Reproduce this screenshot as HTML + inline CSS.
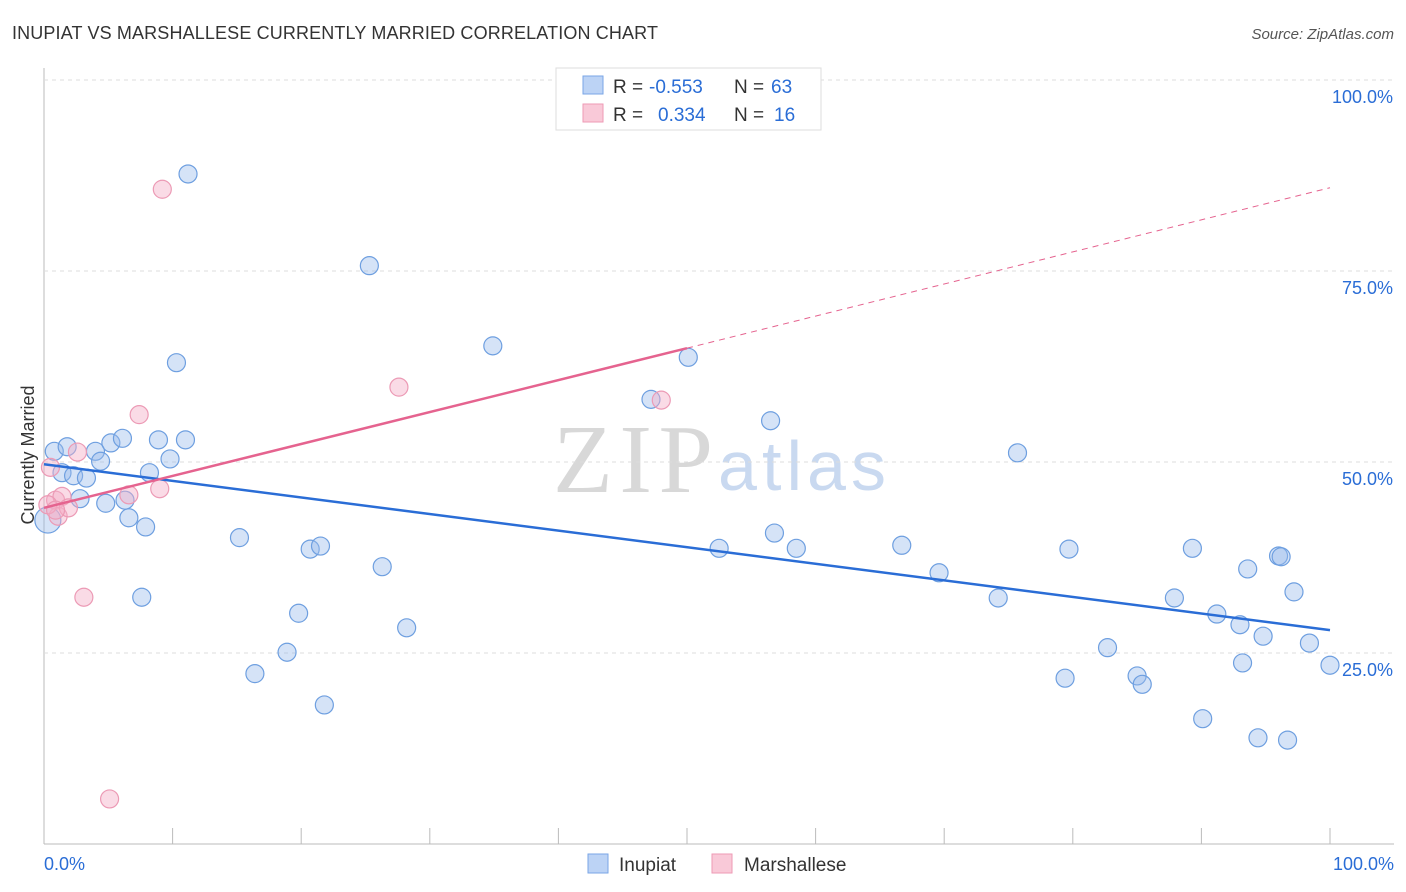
<!DOCTYPE html>
<html><head><meta charset="utf-8"><style>
body{margin:0;background:#fff;font-family:"Liberation Sans",sans-serif}
</style></head><body>
<svg id="c" width="1406" height="892" style="display:block">
<text x="12" y="39" font-size="18" fill="#333" textLength="646">INUPIAT VS MARSHALLESE CURRENTLY MARRIED CORRELATION CHART</text>
<text x="1394" y="39" font-size="15" fill="#555" font-style="italic" text-anchor="end">Source: ZipAtlas.com</text>
<text x="34" y="455" font-size="18" fill="#333" text-anchor="middle" transform="rotate(-90 34 455)">Currently Married</text>
<text x="553" y="492" font-size="98" fill="#d8d8d8" font-family="Liberation Serif" textLength="160">ZIP</text>
<text x="718" y="490" font-size="70" fill="#c9d9f0" textLength="168">atlas</text>
<g id="grid"></g><g id="marks"></g>
<g font-size="19">
<rect x="556" y="68" width="265" height="62" fill="#fff" stroke="#ddd"/>
<rect x="583" y="76" width="20" height="18" fill="#bcd3f5" stroke="#7aa6e6"/>
<rect x="583" y="104" width="20" height="18" fill="#f9c9d8" stroke="#ee9ab5"/>
<text x="613" y="93" fill="#333">R =</text><text x="649" y="93" fill="#2a6dd6">-0.553</text>
<text x="734" y="93" fill="#333">N =</text><text x="771" y="93" fill="#2a6dd6">63</text>
<text x="613" y="121" fill="#333">R =</text><text x="658" y="121" fill="#2a6dd6">0.334</text>
<text x="734" y="121" fill="#333">N =</text><text x="774" y="121" fill="#2a6dd6">16</text>
</g>
<g>
<rect x="588" y="854" width="20" height="19" fill="#bcd3f5" stroke="#7aa6e6"/>
<text x="619" y="871" font-size="19" fill="#333">Inupiat</text>
<rect x="712" y="854" width="20" height="19" fill="#f9c9d8" stroke="#ee9ab5"/>
<text x="744" y="871" font-size="19" fill="#333">Marshallese</text>
</g>
</svg>
<script>
const blueX=[0.8,1.8,1.4,2.3,3.3,2.8,4.0,4.4,5.2,6.1,4.8,6.3,6.6,7.9,8.2,8.9,9.8,11.0,11.2,10.3,7.6,15.2,16.4,18.9,19.8,20.7,21.5,21.8,25.3,26.3,28.2,34.9,47.2,50.1,52.5,56.5,56.8,58.5,66.7,69.6,74.2,75.7,79.7,79.4,82.7,85.0,85.4,89.3,87.9,90.1,91.2,93.0,93.6,93.2,94.8,96.0,96.2,97.2,94.4,96.7,98.4,100,0.3];
const blueY=[51.4,52.0,48.6,48.2,47.9,45.2,51.4,50.1,52.5,53.1,44.6,45.0,42.7,41.5,48.6,52.9,50.4,52.9,87.7,63.0,32.3,40.1,22.3,25.1,30.2,38.6,39.0,18.2,75.7,36.3,28.3,65.2,58.2,63.7,38.7,55.4,40.7,38.7,39.1,35.5,32.2,51.2,38.6,21.7,25.7,22.0,20.9,38.7,32.2,16.4,30.1,28.7,36.0,23.7,27.2,37.7,37.6,33.0,13.9,13.6,26.3,23.4,42.4];
const pinkX=[0.5,0.9,1.1,1.4,1.9,2.6,3.1,5.1,6.6,7.4,9.0,9.2,27.6,48.0,0.3,0.9];
const pinkY=[49.3,45.0,42.9,45.5,44.0,51.3,32.3,5.9,45.7,56.2,46.5,85.7,59.8,58.1,44.4,43.7];
const blueTrend=[49.7,28.0];
const pinkTrend=[44.0,64.9,85.9];
const yTicks=[100,75,50,25];
const NS='http://www.w3.org/2000/svg';
const sx=v=>44+v*12.86, sy=v=>844-v*7.64;
function mk(t,a,p){const e=document.createElementNS(NS,t);for(const k in a)e.setAttribute(k,a[k]);p.appendChild(e);return e;}
const g=document.getElementById('grid'),m=document.getElementById('marks');
mk('line',{x1:44,y1:68,x2:44,y2:844,stroke:'#bbb'},g);
mk('line',{x1:44,y1:844,x2:1394,y2:844,stroke:'#bbb'},g);
yTicks.forEach(t=>{
 const l=mk('line',{x1:44,y1:sy(t),x2:1394,y2:sy(t),stroke:'#ddd','stroke-dasharray':'4,4'},g);
 
 
 const tx=mk('text',{x:1393,y:sy(t)+23,'font-size':18,fill:'#2a6dd6','text-anchor':'end'},g);
 tx.textContent=t.toFixed(1)+'%';
 
 
});
for(let i=1;i<=10;i++){const l=mk('line',{x1:sx(i*10),y1:828,x2:sx(i*10),y2:844,stroke:'#bbb'},g);
 
 }
[['0.0%',44,'start'],['100.0%',1394,'end']].forEach(([s,x,a])=>{const t=mk('text',{x:x,y:870,'font-size':18,fill:'#2a6dd6','text-anchor':a},g);t.textContent=s;
 
 });
blueX.forEach((x,i)=>{const c=mk('circle',{cx:sx(x),cy:sy(blueY[i]),r:i==blueX.length-1?13:9,fill:'rgba(150,185,235,0.4)',stroke:'#6e9fe0','stroke-width':1.2},m);
 
 });
pinkX.forEach((x,i)=>{const c=mk('circle',{cx:sx(x),cy:sy(pinkY[i]),r:9,fill:'rgba(245,175,200,0.45)',stroke:'#ec9ab5','stroke-width':1.2},m);
 
 });
const bl=mk('line',{x1:sx(0),y1:sy(blueTrend[0]),x2:sx(100),y2:sy(blueTrend[1]),stroke:'#2a6dd6','stroke-width':2.5},m);


const pl=mk('line',{x1:sx(0),y1:sy(pinkTrend[0]),x2:sx(50),y2:sy(pinkTrend[1]),stroke:'#e5638f','stroke-width':2.5},m);


const pd=mk('line',{x1:sx(50),y1:sy(pinkTrend[1]),x2:sx(100),y2:sy(pinkTrend[2]),stroke:'#e5638f','stroke-width':1,'stroke-dasharray':'6,5'},m);


</script>
</body></html>
